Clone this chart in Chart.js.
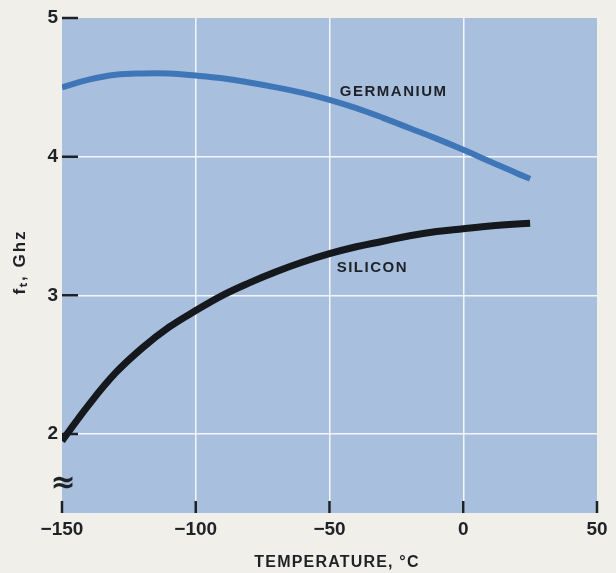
<!DOCTYPE html>
<html>
  <head>
    <title>f_t vs temperature</title>
    <script src="https://cdn.jsdelivr.net/npm/chart.js@^4"></script>
    <style>
      html, body { margin: 0; background: #f1efe9; }
      canvas { display: block; }
    </style>
  </head>
  <body>
    <canvas id="graph" width="616" height="573"></canvas>
    <script>
      // values
      const temperatures = [-150, -140, -130, -120, -110, -100, -90, -80, -70, -60, -50, -40, -30, -20, -10, 0, 10, 20, 25]
      const germanium = [4.50, 4.555, 4.59, 4.60, 4.60, 4.585, 4.565, 4.535, 4.50, 4.46, 4.41, 4.35, 4.28, 4.205, 4.13, 4.05, 3.965, 3.88, 3.84]
      const silicon = [1.95, 2.21, 2.44, 2.62, 2.77, 2.89, 3.00, 3.09, 3.17, 3.24, 3.30, 3.35, 3.39, 3.43, 3.46, 3.48, 3.50, 3.515, 3.52]
      const xTicks = [-150, -100, -50, 0, 50]
      const yTicks = [2, 3, 4, 5]
      const curveLabels = [
        { text: "GERMANIUM", x: -26, y: 4.47 },
        { text: "SILICON", x: -34, y: 3.20 },
      ]

      const ink = "#1e2126"
      const numberFont = { family: "Liberation Sans", weight: "bold", size: 19 }

      const decorations = {
        id: "decorations",
        beforeDraw(chart) {
          const { ctx, chartArea: a } = chart
          ctx.save()
          ctx.fillStyle = "#a8c0de"
          ctx.fillRect(a.left, a.top, a.right - a.left, a.bottom - a.top)
          ctx.restore()
        },
        beforeDatasetsDraw(chart) {
          const { ctx, chartArea: a, scales: { x, y } } = chart
          ctx.save()
          ctx.strokeStyle = ink
          ctx.lineWidth = 2.5
          ctx.beginPath()
          yTicks.forEach(v => {
            const py = y.getPixelForValue(v)
            ctx.moveTo(a.left, py)
            ctx.lineTo(a.left + 16, py)
          })
          xTicks.forEach(v => {
            const px = x.getPixelForValue(v)
            ctx.moveTo(px, a.bottom)
            ctx.lineTo(px, a.bottom - 12)
          })
          ctx.stroke()
          ctx.restore()
        },
        afterDatasetsDraw(chart) {
          const { ctx, chartArea: a, scales: { x, y } } = chart
          ctx.save()
          ctx.fillStyle = ink
          ctx.textAlign = "center"
          ctx.textBaseline = "middle"
          ctx.letterSpacing = "1.5px"
          ctx.font = "bold 15px 'Liberation Sans'"
          curveLabels.forEach(l => {
            ctx.fillText(l.text, x.getPixelForValue(l.x), y.getPixelForValue(l.y))
          })

          // axis break mark
          ctx.letterSpacing = "0px"
          ctx.font = "bold 30px 'DejaVu Sans'"
          ctx.fillText("≈", a.left + 1, 484)

          // axis titles
          ctx.letterSpacing = "1.2px"
          ctx.font = "bold 16px 'Liberation Sans'"
          ctx.fillText("TEMPERATURE, °C", 337, 563)

          ctx.translate(20, 262)
          ctx.rotate(-Math.PI / 2)
          ctx.letterSpacing = "2px"
          ctx.font = "bold 17px 'Liberation Sans'"
          ctx.fillText("fₜ, Ghz", 0, 0)
          ctx.restore()
        },
      }

      const hideEdges = edges => ctx =>
        edges.includes(ctx.tick && ctx.tick.value) ? "rgba(0,0,0,0)" : "rgba(255,255,255,0.85)"

      new Chart(document.getElementById("graph"), {
        type: "line",
        data: {
          datasets: [
            {
              label: "Germanium",
              data: temperatures.map((t, i) => ({ x: t, y: germanium[i] })),
              borderColor: "#3f76b8",
              borderWidth: 6,
            },
            {
              label: "Silicon",
              data: temperatures.map((t, i) => ({ x: t, y: silicon[i] })),
              borderColor: "#15181d",
              borderWidth: 7,
            },
          ],
        },
        options: {
          responsive: false,
          animation: false,
          layout: { padding: { left: 0, top: 18, right: 19, bottom: 0 } },
          elements: {
            point: { radius: 0 },
            line: { tension: 0.4, borderCapStyle: "butt" },
          },
          plugins: {
            legend: { display: false },
            tooltip: { enabled: false },
          },
          scales: {
            x: {
              type: "linear",
              min: -150,
              max: 50,
              afterBuildTicks: scale => { scale.ticks = xTicks.map(v => ({ value: v })) },
              afterFit: scale => { scale.height = 60 },
              border: { display: false },
              grid: { color: hideEdges([-150, 50]), lineWidth: 1.5, drawTicks: false },
              ticks: {
                padding: 5,
                color: ink,
                font: numberFont,
                maxRotation: 0,
                callback: v => v < 0 ? "−" + Math.abs(v) : String(v),
              },
            },
            y: {
              min: 1.43,
              max: 5,
              afterBuildTicks: scale => { scale.ticks = yTicks.map(v => ({ value: v })) },
              afterFit: scale => { scale.width = 62 },
              border: { display: false },
              grid: { color: hideEdges([5]), lineWidth: 1.5, drawTicks: false },
              ticks: { padding: 4, color: ink, font: numberFont },
            },
          },
        },
        plugins: [decorations],
      })
    </script>
  </body>
</html>
